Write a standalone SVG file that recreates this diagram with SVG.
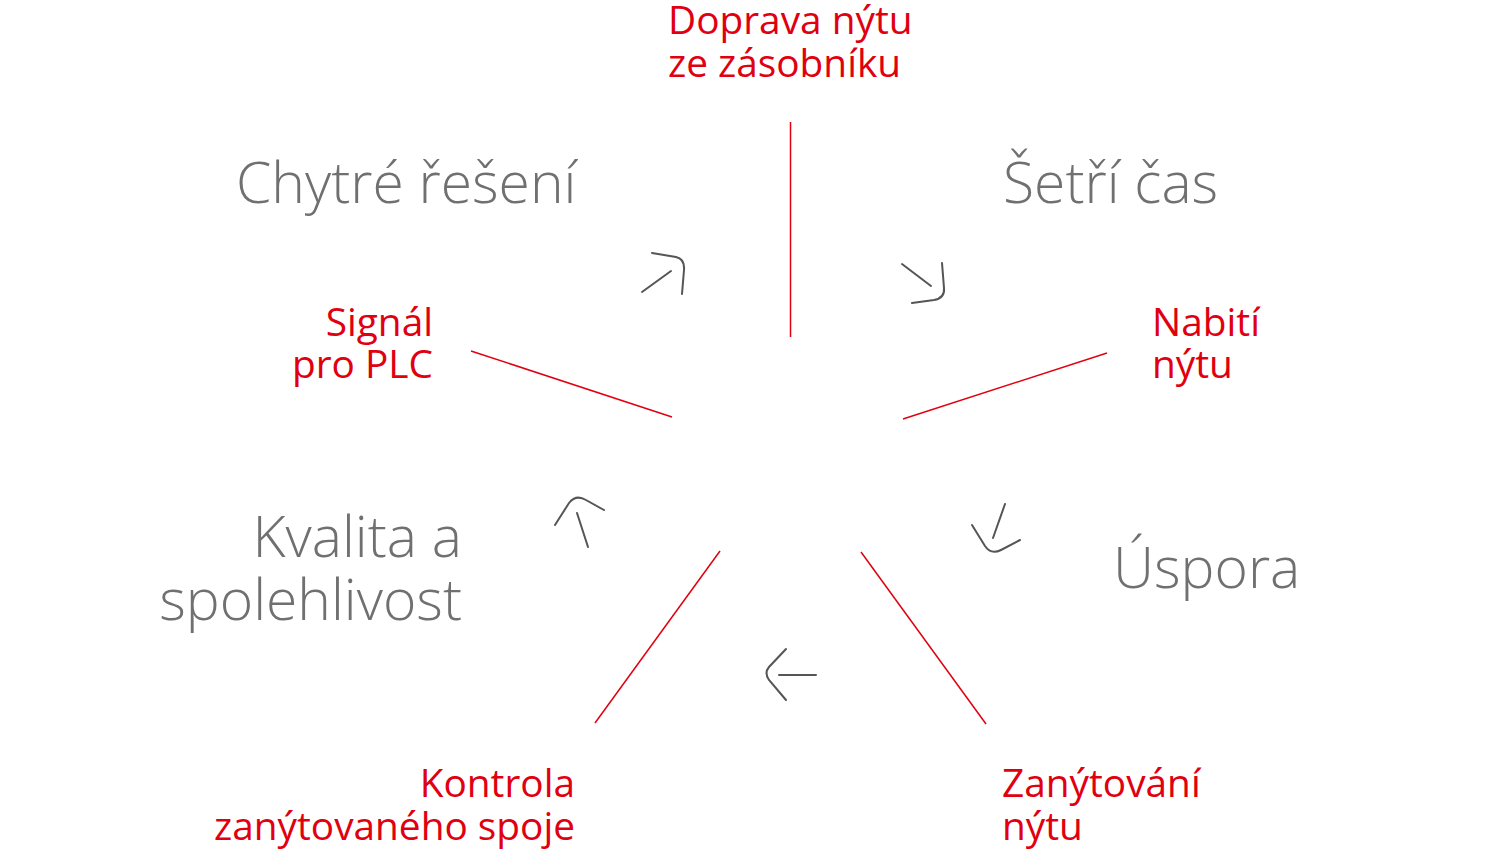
<svg xmlns="http://www.w3.org/2000/svg" width="1500" height="850" viewBox="0 0 1500 850">
<style>
.red{font-family:"Open Sans","Liberation Sans",sans-serif;font-size:38.8px;fill:#e0000f}
.gray{font-family:"Open Sans","Liberation Sans",sans-serif;font-weight:300;font-size:57px;fill:#707070}
.r{text-anchor:end}
.ln{stroke:#e0000f;stroke-width:1.5;fill:none}
.ar{stroke:#555;stroke-width:2;fill:none;stroke-linecap:round}
</style>
<rect width="1500" height="850" fill="#fff"/>
<g id="connectors">
<line class="ln" x1="790.5" y1="122" x2="790.5" y2="337"/>
<line class="ln" x1="471" y1="351" x2="672" y2="417"/>
<line class="ln" x1="903" y1="419" x2="1107" y2="353"/>
<line class="ln" x1="720" y1="551" x2="595" y2="723"/>
<line class="ln" x1="861" y1="552" x2="986" y2="724"/>
</g>
<g id="arrows">
<g id="arrow1"><line class="ar" x1="642" y1="292" x2="671" y2="271"/><path class="ar" d="M652,253 L676,257 Q685,259 684,270 L682,294"/></g>
<g id="arrow2"><line class="ar" x1="902" y1="264" x2="931" y2="286"/><path class="ar" d="M942,263 L944,288 Q945,298 934,300 L912,303"/></g>
<g id="arrow3"><line class="ar" x1="1005" y1="504" x2="993" y2="538"/><path class="ar" d="M972,525 L985,546 Q991,555 1001,550 L1020,540"/></g>
<g id="arrow4"><line class="ar" x1="577" y1="513" x2="588" y2="547"/><path class="ar" d="M555,525 L569,503 Q576,494 586,500 L604,510"/></g>
<g id="arrow5"><line class="ar" x1="779" y1="675" x2="816" y2="675"/><path class="ar" d="M786,649 L769,667 Q764,673 769,680 L786,700"/></g>
</g>
<g id="n1"><text class="red" x="668" y="34">Doprava nýtu</text><text class="red" x="668" y="77">ze zásobníku</text></g>
<g id="n2"><text class="red" x="1152" y="336">Nabití</text><text class="red" x="1152" y="378">nýtu</text></g>
<g id="n3"><text class="red" x="1002" y="797">Zanýtování</text><text class="red" x="1002" y="840">nýtu</text></g>
<g id="n4"><text class="red r" x="575" y="797">Kontrola</text><text class="red r" x="575" y="840">zanýtovaného spoje</text></g>
<g id="n5"><text class="red r" x="433" y="336">Signál</text><text class="red r" x="433" y="378">pro PLC</text></g>
<g id="b1"><text class="gray" x="236" y="203">Chytré řešení</text></g>
<g id="b2"><text class="gray" x="1003" y="203">Šetří čas</text></g>
<g id="b3"><text class="gray" x="1113" y="588">Úspora</text></g>
<g id="b4"><text class="gray r" x="462" y="557">Kvalita a</text><text class="gray r" x="462" y="620">spolehlivost</text></g>
</svg>
